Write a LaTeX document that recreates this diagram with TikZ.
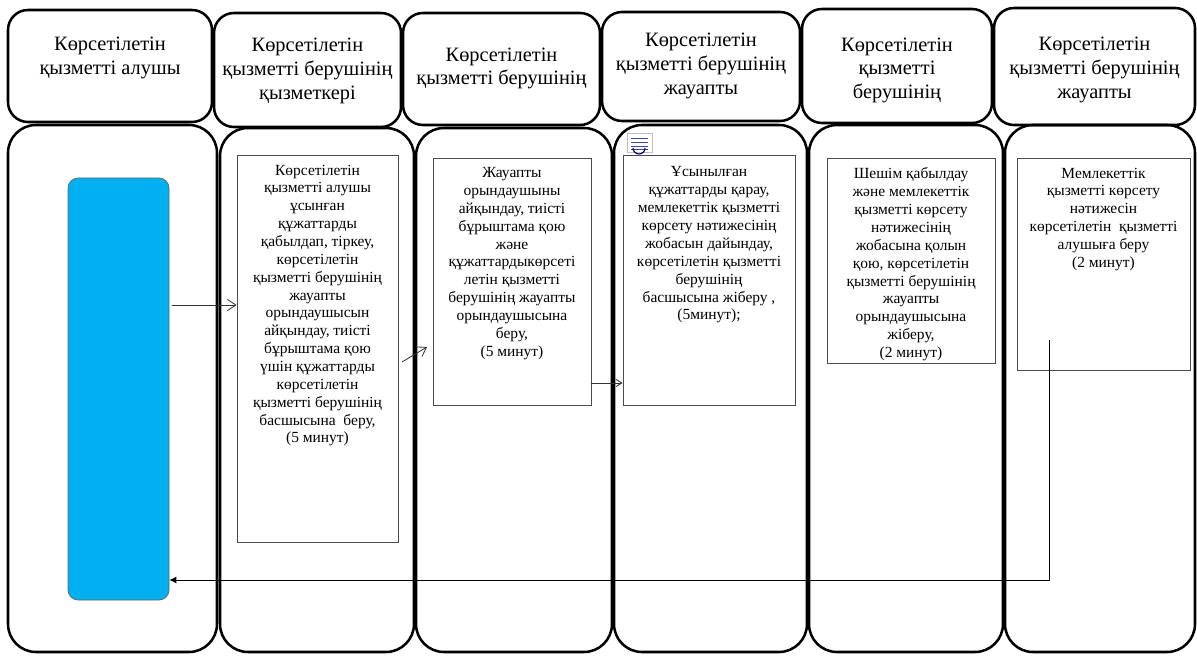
\documentclass[tikz,border=0pt]{standalone}
\usepackage{fontspec}
\setmainfont{Liberation Serif}
\usetikzlibrary{arrows.meta, positioning, fit}

\definecolor{clientblue}{HTML}{00B0F0}

\begin{document}
\begin{tikzpicture}[
    x=0.025cm, y=-0.025cm,
    headbox/.style={rectangle, draw, line width=1.8pt, rounded corners=0.5cm, inner sep=0pt},
    lanebox/.style={rectangle, draw, line width=1.8pt, rounded corners=0.7cm, inner sep=0pt},
    headtext/.style={align=center, inner sep=0pt, font=\fontsize{14.5}{16.8}\selectfont},
    stepbox/.style={rectangle, draw=black!70, line width=0.6pt, inner sep=0pt},
    steptext/.style={align=center, inner sep=0pt, font=\fontsize{11}{12.7}\selectfont},
    clientbox/.style={rectangle, draw=black!60, fill=clientblue, rounded corners=0.25cm, inner sep=0pt, line width=0.5pt},
    arrow/.style={-{Straight Barb[length=6pt, width=8pt]}, line width=0.6pt, black!80},
    backarrow/.style={-{Latex[length=5pt, width=5pt]}, line width=0.7pt}
]
\useasboundingbox (0,0) rectangle (1197,656);

% Swim lanes
\node[lanebox, fit={(8,125) (217,652)}] (lane1) {};
\node[lanebox, fit={(220,128) (414,652)}] (lane2) {};
\node[lanebox, fit={(416,128) (612,652)}] (lane3) {};
\node[lanebox, fit={(614,125) (807,652)}] (lane4) {};
\node[lanebox, fit={(809,125) (1003,652)}] (lane5) {};
\node[lanebox, fit={(1005,125) (1195,652)}] (lane6) {};

% Lane headers
\node[headbox, fit={(8,10) (212,122)}] (head1) {};
\node[headbox, fit={(214,13) (401,127)}] (head2) {};
\node[headbox, fit={(403,13) (600,125)}] (head3) {};
\node[headbox, fit={(602,12) (800,121)}] (head4) {};
\node[headbox, fit={(802,9) (992,123)}] (head5) {};
\node[headbox, fit={(994,8) (1195,125)}] (head6) {};

\node[headtext, below=0.7cm of head1.north] (title1) {Көрсетілетін\\қызметті алушы};
\node[headtext, below=0.66cm of head2.north] (title2) {Көрсетілетін\\қызметті берушінің\\қызметкері};
\node[headtext, below=0.89cm of head3.north] (title3) {Көрсетілетін\\қызметті берушінің};
\node[headtext, below=0.56cm of head4.north] (title4) {Көрсетілетін\\қызметті берушінің\\жауапты};
\node[headtext, below=0.74cm of head5.north] (title5) {Көрсетілетін\\қызметті\\берушінің};
\node[headtext, below=0.76cm of head6.north] (title6) {Көрсетілетін\\қызметті берушінің\\жауапты};

% Service receiver
\node[clientbox, fit={(68,178) (169,600)}] (client) {};

% Process steps
\node[stepbox, fit={(237,155) (398,542)}] (accept) {};
\node[stepbox, fit={(433,158) (591,405)}] (assign) {};
\node[stepbox, fit={(623,155) (795,405)}] (review) {};
\node[stepbox, fit={(827,158) (995,363)}] (sign) {};
\node[stepbox, fit={(1017,158) (1190,370)}] (issue) {};

\node[steptext, below=0.25cm of accept.north] (accepttext) {Көрсетілетін\\қызметті алушы\\ұсынған\\құжаттарды\\қабылдап, тіркеу,\\көрсетілетін\\қызметті берушінің\\жауапты\\орындаушысын\\айқындау, тиісті\\бұрыштама қою\\үшін құжаттарды\\көрсетілетін\\қызметті берушінің\\басшысына \ беру,\\(5 минут)};
\node[steptext, below=0.24cm of assign.north] (assigntext) {Жауапты\\орындаушыны\\айқындау, тиісті\\бұрыштама қою\\және\\құжаттардыкөрсеті\\летін қызметті\\берушінің жауапты\\орындаушысына\\беру,\\(5 минут)};
\node[steptext, below=0.3cm of review.north] (reviewtext) {Ұсынылған\\құжаттарды қарау,\\мемлекеттік қызметті\\көрсету нәтижесінің\\жобасын дайындау,\\көрсетілетін қызметті\\берушінің\\басшысына жіберу ,\\(5минут);};
\node[steptext, below=0.25cm of sign.north] (signtext) {Шешім қабылдау\\және мемлекеттік\\қызметті көрсету\\нәтижесінің\\жобасына қолын\\қою, көрсетілетін\\қызметті берушінің\\жауапты\\орындаушысына\\жіберу,\\(2 минут)};
\node[steptext, below=0.25cm of issue.north] (issuetext) {Мемлекеттік\\қызметті көрсету\\нәтижесін\\көрсетілетін \ қызметті\\алушыға беру\\(2 минут)};

% Small picture icon
\node[draw=black!25, fill=white, line width=0.4pt, inner sep=0pt, fit={(627,133) (652,152)}] (icon) {};
\foreach \yy in {138,142,146,149}
    \draw[blue!50!gray, line width=0.5pt] (631,\yy) -- (648,\yy);
\draw[blue!40!black, line width=0.8pt] (633,148) arc[start angle=180, end angle=0, radius=6];

% Arrows
\coordinate (in1) at (0,305);
\coordinate (ab1) at (402,362);
\coordinate (ab2) at (427,347);
\coordinate (bc) at (0,383);
\coordinate (ret) at (1049,340);
\coordinate (back) at (0,580);
\draw[arrow] ([xshift=3\pgflinewidth]client.east |- in1) -- (accept.west |- in1);
\draw[arrow] (ab1) -- (ab2);
\draw[arrow, -{Straight Barb[length=4pt, width=5pt]}] (assign.east |- bc) -- (review.west |- bc);
\draw[backarrow] (ret) |- (client.east |- back);

\end{tikzpicture}
\end{document}
